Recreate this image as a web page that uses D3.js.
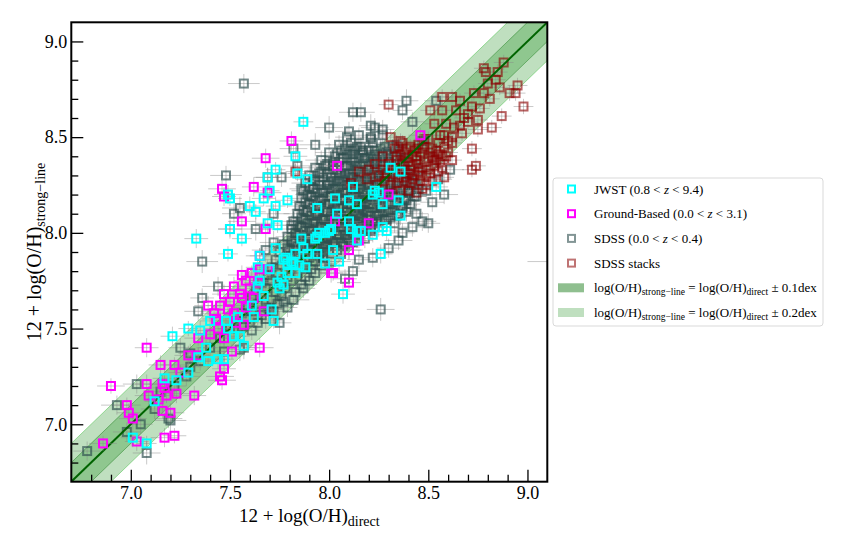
<!DOCTYPE html>
<html>
<head>
<meta charset="utf-8">
<script src="https://cdn.jsdelivr.net/npm/d3@7"></script>
<style>
body { margin: 0; background: #fff; }
text { font-family: "Liberation Serif", "Times New Roman", serif; }
</style>
</head>
<body>
<div id="chart"></div>
<script>
// [x, y, xerr, yerr]
var jwst = [
  [7.87,8.58,.05,.04],[7.83,8.40,.06,.05],[7.73,8.33,.05,.04],[7.69,8.29,.06,.05],[7.84,8.31,.05,.04],[7.89,8.28,.06,.05],
  [7.49,8.20,.07,.05],[7.50,8.18,.06,.04],[7.70,8.22,.05,.05],[7.67,8.18,.06,.04],[7.73,8.14,.05,.05],[7.79,8.17,.06,.04],
  [7.60,8.14,.07,.05],[7.63,8.11,.05,.04],[7.50,8.02,.06,.05],[7.56,7.97,.05,.04],[7.33,7.97,.06,.05],[7.49,7.89,.05,.04],
  [7.69,8.05,.06,.05],[7.74,8.04,.05,.04],[7.73,7.92,.06,.05],[7.65,7.88,.05,.04],[7.64,7.82,.06,.05],[7.65,7.75,.05,.04],
  [7.64,7.72,.06,.05],[8.12,8.24,.05,.04],[8.03,8.18,.06,.05],[8.10,8.17,.05,.04],[8.14,8.15,.06,.05],[7.94,8.13,.05,.04],
  [8.01,8.02,.06,.05],[7.98,8.00,.05,.04],[7.95,8.00,.06,.05],[7.93,7.97,.05,.04],[8.10,8.06,.06,.05],[8.11,8.02,.05,.04],
  [8.14,8.01,.06,.05],[8.14,7.96,.05,.04],[7.86,7.97,.06,.05],[7.87,7.92,.05,.04],[7.83,7.89,.06,.05],[7.89,7.89,.05,.04],
  [7.94,7.89,.06,.05],[8.02,7.91,.05,.04],[8.05,7.85,.06,.05],[7.98,7.84,.05,.04],[7.78,7.87,.06,.05],[7.79,7.84,.05,.04],
  [7.82,7.84,.06,.05],[7.85,7.83,.05,.04],[7.88,7.82,.06,.05],[7.83,7.79,.05,.04],[7.79,7.79,.06,.05],[8.31,8.34,.05,.04],
  [8.36,8.32,.06,.05],[8.23,8.22,.05,.04],[8.22,8.20,.06,.05],[8.25,8.21,.05,.04],[8.27,8.15,.06,.05],[8.35,8.17,.05,.04],
  [8.54,8.24,.06,.05],[8.04,8.10,.05,.04],[8.36,8.09,.06,.05],[8.16,8.01,.05,.04],[8.29,8.01,.06,.05],[8.00,8.01,.05,.04],
  [8.26,7.89,.06,.05],[8.22,7.99,.05,.04],[8.27,8.03,.06,.05],[7.94,7.98,.05,.04],[8.07,7.68,.06,.05],[7.77,7.86,.05,.04],
  [7.81,7.85,.06,.05],[7.70,7.81,.05,.04],[7.76,7.77,.06,.05],[7.67,7.67,.05,.04],[7.74,7.74,.06,.05],[7.75,7.71,.05,.04],
  [7.77,7.73,.06,.05],[7.61,7.62,.05,.04],[7.71,7.60,.06,.05],[7.72,7.54,.05,.04],[7.62,7.56,.06,.05],[7.54,7.56,.05,.04],
  [7.48,7.54,.06,.05],[7.40,7.54,.05,.04],[7.35,7.49,.06,.05],[7.29,7.50,.05,.04],[7.21,7.46,.06,.05],[7.49,7.50,.05,.04],
  [7.52,7.46,.06,.05],[7.55,7.46,.05,.04],[7.57,7.41,.06,.05],[7.38,7.40,.05,.04],[7.34,7.35,.06,.05],[7.39,7.33,.05,.04],
  [7.44,7.34,.06,.05],[7.47,7.34,.05,.04],[7.29,7.27,.06,.05],[7.23,7.23,.05,.04],[7.17,7.24,.06,.05],[7.12,7.12,.05,.04],
  [7.01,6.93,.06,.05],[7.08,6.90,.05,.04]
];

var ground = [
  [7.81,8.48,.06,.05],[7.68,8.39,.07,.05],[8.04,8.35,.06,.04],[7.46,8.23,.07,.05],[7.62,8.24,.06,.05],[7.69,8.21,.07,.04],
  [7.47,8.19,.06,.05],[7.56,8.06,.07,.05],[7.50,8.02,.06,.04],[7.68,8.02,.07,.05],[8.03,8.06,.06,.05],[7.65,7.88,.07,.04],
  [8.10,7.91,.06,.05],[7.56,7.78,.07,.05],[7.61,7.79,.06,.04],[7.65,7.81,.07,.05],[7.69,7.81,.06,.05],[8.02,7.79,.07,.04],
  [8.10,7.74,.06,.05],[7.64,7.74,.07,.05],[8.46,8.51,.06,.04],[8.30,8.20,.07,.05],[8.20,8.05,.06,.05],[8.15,7.96,.07,.04],
  [7.47,7.68,.06,.05],[7.55,7.68,.07,.05],[7.56,7.66,.06,.04],[7.39,7.62,.07,.05],[7.49,7.60,.06,.05],[7.42,7.58,.07,.04],
  [7.52,7.58,.06,.05],[7.58,7.61,.07,.05],[7.67,7.59,.06,.04],[7.44,7.50,.07,.05],[7.47,7.45,.06,.05],[7.34,7.45,.07,.04],
  [7.08,7.40,.06,.05],[7.65,7.40,.07,.05],[7.51,7.38,.06,.04],[7.29,7.36,.07,.05],[7.15,7.31,.06,.05],[7.22,7.31,.07,.04],
  [7.47,7.29,.06,.05],[7.45,7.25,.07,.05],[7.25,7.27,.06,.04],[7.16,7.21,.07,.05],[7.08,7.21,.06,.05],[6.90,7.20,.07,.04],
  [7.17,7.19,.06,.05],[7.23,7.16,.07,.05],[7.18,7.15,.06,.04],[7.09,7.15,.07,.05],[7.32,7.15,.06,.05],[6.98,7.10,.07,.04],
  [6.99,7.06,.06,.05],[7.01,7.03,.07,.05],[7.16,7.07,.06,.04],[7.20,7.06,.07,.05],[7.14,7.13,.06,.05],[6.86,6.90,.07,.04],
  [7.03,6.91,.06,.05],[7.17,6.93,.07,.05],[7.22,6.94,.06,.04],[7.46,7.23,.07,.05],[7.52,7.72,.06,.05],[7.60,7.71,.07,.04],
  [7.58,7.75,.06,.05],[7.50,7.64,.07,.05],[7.62,7.66,.06,.04],[7.45,7.62,.07,.05],[7.53,7.53,.06,.05],[7.43,7.55,.07,.04],
  [7.57,7.52,.06,.05],[7.40,7.47,.07,.05],[7.34,7.36,.06,.04],[8.10,7.91,.07,.05],[8.01,7.79,.06,.05]
];

var sdss = [
  // scattered
  [7.57,8.78,.08,.05],[8.26,7.60,.07,.06],[7.36,7.85,.08,.06],[7.34,7.59,.07,.05],[7.77,7.64,.08,.06],[7.75,7.53,.06,.06],
  [7.57,7.40,.08,.06],[7.03,7.21,.07,.05],[6.93,7.10,.08,.05],[7.19,7.03,.07,.05],[6.78,6.86,.07,.05],[7.20,7.02,.08,.06],
  [7.08,6.85,.07,.06],[7.48,8.30,.08,.05],[7.55,8.13,.09,.06],[7.69,8.29,.07,.05],[7.76,8.29,.07,.05],[7.84,8.35,.08,.06],
  [7.82,8.44,.07,.06],[7.86,8.23,.06,.06],[7.81,8.04,.08,.05],[7.68,7.91,.07,.06],[7.72,7.95,.07,.06],[7.70,7.60,.07,.05],
  [7.55,7.39,.07,.06],[7.52,8.10,.06,.05],[7.63,8.02,.07,.06],[7.72,8.10,.08,.05],[7.36,7.66,.06,.05],[7.44,7.72,.08,.05],
  [7.30,7.30,.06,.05],[7.25,7.40,.06,.05],[8.12,8.63,.07,.05],[8.16,8.63,.07,.05],[8.39,8.69,.06,.06],[8.37,8.64,.05,.05],
  [8.54,8.69,.06,.05],[8.10,8.53,.07,.05],[8.21,8.56,.06,.06],[8.23,8.55,.07,.05],[8.27,8.54,.06,.05],[8.21,8.50,.06,.05],
  [8.13,8.44,.06,.05],[8.42,8.58,.06,.05],[8.00,8.55,.07,.06],[7.93,8.46,.08,.06],[8.47,8.48,.06,.05],[8.45,8.33,.06,.05],
  [8.61,8.33,.07,.05],[8.49,8.22,.06,.05],[8.47,8.06,.07,.05],[8.44,8.10,.06,.05],[8.37,8.00,.06,.05],[8.35,7.96,.07,.05],
  [8.42,8.03,.06,.05],[8.22,7.87,.07,.05],[8.52,8.16,.06,.05],[8.55,8.28,.07,.05],[8.50,8.05,.06,.05],[8.30,7.92,.06,.05],
  [8.12,7.80,.07,.05],[8.15,7.86,.06,.05],[8.08,7.76,.06,.05],[8.58,8.20,.07,.05],[9.20,7.85,.20,.05],
  // main cloud
  [8.09,8.50,.06,.05],[8.15,8.51,.05,.04],[8.21,8.49,.07,.05],[8.27,8.51,.05,.05],
  [8.05,8.46,.07,.05],[8.11,8.47,.06,.04],[8.16,8.45,.05,.05],[8.22,8.47,.08,.05],[8.28,8.45,.06,.04],[8.34,8.46,.05,.05],
  [8.00,8.42,.07,.05],[8.06,8.43,.05,.04],[8.12,8.41,.08,.05],[8.17,8.43,.06,.05],[8.23,8.41,.05,.04],[8.29,8.42,.07,.05],[8.35,8.43,.06,.05],
  [7.96,8.38,.08,.05],[8.02,8.37,.06,.05],[8.07,8.39,.05,.04],[8.13,8.37,.07,.05],[8.18,8.39,.06,.05],[8.24,8.38,.08,.04],[8.30,8.37,.05,.05],[8.37,8.39,.06,.05],
  [7.93,8.34,.07,.05],[7.98,8.35,.06,.05],[8.04,8.33,.08,.04],[8.09,8.35,.05,.05],[8.14,8.33,.06,.05],[8.20,8.35,.07,.04],[8.26,8.33,.05,.05],[8.32,8.35,.06,.05],[8.39,8.33,.07,.05],
  [7.90,8.30,.08,.05],[7.95,8.31,.05,.05],[8.01,8.29,.06,.04],[8.06,8.31,.07,.05],[8.11,8.29,.05,.05],[8.17,8.31,.06,.04],[8.22,8.29,.08,.05],[8.28,8.31,.05,.05],[8.34,8.29,.06,.05],[8.41,8.31,.07,.04],
  [7.88,8.26,.07,.05],[7.93,8.27,.06,.04],[7.99,8.25,.05,.05],[8.04,8.27,.08,.05],[8.09,8.25,.06,.04],[8.14,8.27,.05,.05],[8.20,8.25,.07,.05],[8.25,8.27,.06,.04],[8.31,8.25,.05,.05],[8.37,8.27,.08,.05],[8.44,8.25,.06,.05],
  [7.87,8.22,.06,.05],[7.92,8.23,.07,.05],[7.97,8.21,.05,.04],[8.02,8.23,.06,.05],[8.07,8.21,.08,.05],[8.12,8.23,.05,.04],[8.17,8.21,.06,.05],[8.23,8.23,.07,.05],[8.28,8.21,.05,.04],[8.34,8.23,.06,.05],[8.40,8.21,.07,.05],[8.45,8.23,.05,.05],
  [7.86,8.18,.07,.05],[7.91,8.19,.05,.05],[7.96,8.17,.06,.04],[8.01,8.19,.08,.05],[8.06,8.17,.05,.05],[8.11,8.19,.06,.04],[8.16,8.17,.07,.05],[8.21,8.19,.05,.05],[8.27,8.17,.06,.04],[8.32,8.19,.08,.05],[8.38,8.17,.05,.05],[8.43,8.19,.06,.05],
  [7.85,8.14,.06,.05],[7.90,8.15,.07,.04],[7.95,8.13,.05,.05],[8.00,8.15,.06,.05],[8.05,8.13,.08,.04],[8.10,8.15,.05,.05],[8.15,8.13,.06,.05],[8.20,8.15,.07,.04],[8.26,8.13,.05,.05],[8.31,8.15,.06,.05],[8.36,8.13,.08,.05],[8.41,8.15,.05,.05],
  [7.84,8.10,.07,.05],[7.89,8.11,.05,.05],[7.94,8.09,.06,.04],[7.99,8.11,.08,.05],[8.04,8.09,.05,.05],[8.09,8.11,.06,.04],[8.14,8.09,.07,.05],[8.19,8.11,.05,.05],[8.24,8.09,.06,.04],[8.29,8.11,.08,.05],[8.34,8.09,.05,.05],[8.39,8.11,.06,.05],
  [7.82,8.06,.06,.05],[7.87,8.07,.07,.04],[7.92,8.05,.05,.05],[7.97,8.07,.06,.05],[8.02,8.05,.08,.04],[8.07,8.07,.05,.05],[8.12,8.05,.06,.05],[8.17,8.07,.07,.04],[8.22,8.05,.05,.05],[8.28,8.07,.06,.05],[8.33,8.05,.07,.05],
  [7.81,8.02,.07,.05],[7.86,8.03,.05,.05],[7.91,8.01,.06,.04],[7.96,8.03,.08,.05],[8.01,8.01,.05,.05],[8.06,8.03,.06,.04],[8.11,8.01,.07,.05],[8.16,8.03,.05,.05],[8.21,8.01,.06,.04],[8.25,8.03,.08,.05],
  [7.79,7.98,.06,.05],[7.84,7.99,.07,.04],[7.89,7.97,.05,.05],[7.94,7.99,.06,.05],[7.99,7.97,.08,.04],[8.04,7.99,.05,.05],[8.09,7.97,.06,.05],[8.14,7.99,.07,.04],[8.18,7.97,.05,.05],
  [7.77,7.94,.07,.05],[7.82,7.95,.05,.05],[7.87,7.93,.06,.04],[7.92,7.95,.08,.05],[7.97,7.93,.05,.05],[8.02,7.95,.06,.04],[8.07,7.93,.07,.05],[8.12,7.95,.05,.05],
  [7.75,7.90,.06,.05],[7.80,7.91,.07,.04],[7.85,7.89,.05,.05],[7.90,7.91,.06,.05],[7.95,7.89,.08,.04],[8.00,7.91,.05,.05],[8.06,7.89,.06,.05],
  [7.73,7.86,.07,.05],[7.78,7.87,.05,.05],[7.83,7.85,.06,.04],[7.88,7.87,.08,.05],[7.93,7.85,.05,.05],[7.97,7.87,.06,.04],[8.01,7.85,.07,.05],
  [7.71,7.82,.06,.05],[7.76,7.83,.07,.04],[7.81,7.81,.05,.05],[7.86,7.83,.06,.05],[7.91,7.81,.08,.04],[7.96,7.83,.05,.05],
  [7.69,7.78,.07,.05],[7.74,7.79,.05,.05],[7.79,7.77,.06,.04],[7.84,7.79,.08,.05],[7.88,7.77,.05,.05],[7.93,7.79,.06,.05],
  [7.66,7.74,.06,.05],[7.71,7.75,.07,.04],[7.76,7.73,.05,.05],[7.81,7.75,.06,.05],[7.86,7.73,.08,.04],[7.90,7.75,.05,.05],
  [7.63,7.70,.07,.05],[7.68,7.71,.05,.05],[7.73,7.69,.06,.04],[7.78,7.71,.08,.05],[7.83,7.69,.05,.05],[7.87,7.71,.06,.05],
  [7.61,7.66,.06,.05],[7.66,7.67,.07,.04],[7.71,7.65,.05,.05],[7.76,7.67,.06,.05],[7.82,7.65,.08,.04],
  [7.59,7.62,.07,.05],[7.64,7.63,.05,.05],[7.69,7.61,.06,.04],[7.74,7.63,.08,.05],[7.79,7.61,.05,.05],
  [7.56,7.58,.06,.05],[7.61,7.59,.07,.04],[7.66,7.57,.05,.05],[7.72,7.59,.06,.05],
  [7.53,7.54,.07,.05],[7.58,7.55,.05,.05],[7.64,7.53,.06,.04],[7.68,7.55,.08,.05],
  [7.50,7.50,.06,.05],[7.56,7.51,.07,.04],[7.61,7.49,.05,.05],
  [7.45,7.45,.07,.05],[7.40,7.40,.06,.05],[7.47,7.38,.08,.05],[7.35,7.33,.07,.05],[7.30,7.37,.06,.05],[7.28,7.25,.07,.05],
  [7.22,7.20,.06,.05],[7.15,7.17,.08,.05],[7.12,7.08,.07,.05],[7.05,7.00,.06,.05],[6.98,6.96,.07,.05],
  // dense core
  [8.08,8.44,.06,.05],[8.14,8.45,.05,.04],[8.20,8.43,.07,.05],[8.26,8.44,.06,.05],[8.32,8.45,.05,.04],
  [8.03,8.40,.07,.05],[8.09,8.41,.05,.05],[8.15,8.39,.06,.04],[8.21,8.40,.08,.05],[8.27,8.41,.05,.05],[8.33,8.40,.06,.04],
  [7.99,8.36,.06,.05],[8.05,8.37,.07,.04],[8.11,8.35,.05,.05],[8.17,8.36,.06,.05],[8.22,8.37,.08,.04],[8.28,8.35,.05,.05],[8.35,8.36,.06,.05],
  [7.96,8.32,.07,.05],[8.02,8.33,.05,.05],[8.08,8.31,.06,.04],[8.13,8.32,.08,.05],[8.19,8.33,.05,.05],[8.25,8.31,.06,.04],[8.31,8.32,.07,.05],[8.37,8.33,.05,.05],
  [7.92,8.28,.06,.05],[7.97,8.29,.07,.04],[8.02,8.27,.05,.05],[8.07,8.28,.06,.05],[8.12,8.29,.08,.04],[8.17,8.27,.05,.05],[8.23,8.28,.06,.05],[8.28,8.29,.07,.04],[8.34,8.27,.05,.05],[8.40,8.28,.06,.05],
  [7.90,8.24,.07,.05],[7.95,8.25,.05,.05],[8.00,8.23,.06,.04],[8.05,8.24,.08,.05],[8.10,8.25,.05,.05],[8.15,8.23,.06,.04],[8.20,8.24,.07,.05],[8.26,8.25,.05,.05],[8.31,8.23,.06,.04],[8.37,8.24,.08,.05],[8.42,8.25,.05,.05],
  [7.89,8.20,.06,.05],[7.94,8.21,.07,.04],[7.99,8.19,.05,.05],[8.04,8.20,.06,.05],[8.09,8.21,.08,.04],[8.14,8.19,.05,.05],[8.19,8.20,.06,.05],[8.24,8.21,.07,.04],[8.30,8.19,.05,.05],[8.35,8.20,.06,.05],[8.41,8.21,.07,.05],
  [7.88,8.16,.07,.05],[7.93,8.17,.05,.05],[7.98,8.15,.06,.04],[8.03,8.16,.08,.05],[8.08,8.17,.05,.05],[8.13,8.15,.06,.04],[8.18,8.16,.07,.05],[8.23,8.17,.05,.05],[8.29,8.15,.06,.04],[8.34,8.16,.08,.05],[8.39,8.17,.05,.05],
  [7.87,8.12,.06,.05],[7.92,8.13,.07,.04],[7.97,8.11,.05,.05],[8.02,8.12,.06,.05],[8.07,8.13,.08,.04],[8.12,8.11,.05,.05],[8.17,8.12,.06,.05],[8.22,8.13,.07,.04],[8.27,8.11,.05,.05],[8.32,8.12,.06,.05],[8.37,8.13,.07,.05],
  [7.86,8.08,.07,.05],[7.91,8.09,.05,.05],[7.96,8.07,.06,.04],[8.01,8.08,.08,.05],[8.06,8.09,.05,.05],[8.11,8.07,.06,.04],[8.16,8.08,.07,.05],[8.21,8.09,.05,.05],[8.26,8.07,.06,.04],[8.31,8.08,.08,.05],
  [7.84,8.04,.06,.05],[7.89,8.05,.07,.04],[7.94,8.03,.05,.05],[7.99,8.04,.06,.05],[8.04,8.05,.08,.04],[8.09,8.03,.05,.05],[8.14,8.04,.06,.05],[8.19,8.05,.07,.04],[8.23,8.03,.05,.05],
  [7.83,8.00,.07,.05],[7.88,8.01,.05,.05],[7.93,7.99,.06,.04],[7.98,8.00,.08,.05],[8.03,8.01,.05,.05],[8.08,7.99,.06,.04],[8.13,8.00,.07,.05],[8.18,8.01,.05,.05],
  [7.81,7.96,.06,.05],[7.86,7.97,.07,.04],[7.91,7.95,.05,.05],[7.96,7.96,.06,.05],[8.01,7.97,.08,.04],[8.06,7.95,.05,.05],[8.11,7.96,.06,.05],
  [7.79,7.92,.07,.05],[7.84,7.93,.05,.05],[7.89,7.91,.06,.04],[7.94,7.92,.08,.05],[7.99,7.93,.05,.05],[8.04,7.91,.06,.04],
  [7.80,7.88,.06,.05],[7.85,7.89,.07,.04],[7.90,7.87,.05,.05],[7.95,7.88,.06,.05],
  // densest part
  [8.11,8.43,.06,.04],[8.17,8.42,.05,.05],[8.23,8.43,.07,.04],[8.29,8.42,.06,.05],
  [8.06,8.39,.05,.04],[8.12,8.38,.07,.05],[8.18,8.39,.06,.04],[8.24,8.38,.05,.05],[8.30,8.39,.07,.04],[8.36,8.38,.06,.05],
  [8.02,8.35,.06,.04],[8.08,8.34,.05,.05],[8.14,8.35,.07,.04],[8.20,8.34,.06,.05],[8.25,8.35,.05,.04],[8.31,8.34,.07,.05],[8.38,8.35,.06,.04],
  [7.99,8.31,.05,.05],[8.05,8.30,.07,.04],[8.10,8.31,.06,.05],[8.16,8.30,.05,.04],[8.22,8.31,.07,.05],[8.28,8.30,.06,.04],[8.34,8.31,.05,.05],[8.40,8.30,.07,.04],
  [7.95,8.27,.06,.05],[8.00,8.26,.05,.04],[8.05,8.27,.07,.05],[8.10,8.26,.06,.04],[8.15,8.27,.05,.05],[8.20,8.26,.07,.04],[8.26,8.27,.06,.05],[8.31,8.26,.05,.04],[8.37,8.27,.07,.05],[8.43,8.26,.06,.04],
  [7.92,8.23,.05,.05],[7.97,8.22,.07,.04],[8.03,8.23,.06,.05],[8.08,8.22,.05,.04],[8.13,8.23,.07,.05],[8.18,8.22,.06,.04],[8.23,8.23,.05,.05],[8.29,8.22,.07,.04],[8.34,8.23,.06,.05],[8.40,8.22,.05,.04],
  [7.91,8.19,.06,.05],[7.96,8.18,.05,.04],[8.01,8.19,.07,.05],[8.07,8.18,.06,.04],[8.12,8.19,.05,.05],[8.17,8.18,.07,.04],[8.22,8.19,.06,.05],[8.27,8.18,.05,.04],[8.33,8.19,.07,.05],[8.38,8.18,.06,.04],[8.44,8.19,.05,.05],
  [7.90,8.15,.07,.04],[7.95,8.14,.06,.05],[8.00,8.15,.05,.04],[8.05,8.14,.07,.05],[8.11,8.15,.06,.04],[8.16,8.14,.05,.05],[8.21,8.15,.07,.04],[8.26,8.14,.06,.05],[8.31,8.15,.05,.04],[8.37,8.14,.07,.05],
  [7.89,8.11,.06,.05],[7.94,8.10,.05,.04],[7.99,8.11,.07,.05],[8.04,8.10,.06,.04],[8.09,8.11,.05,.05],[8.15,8.10,.07,.04],[8.20,8.11,.06,.05],[8.25,8.10,.05,.04],[8.30,8.11,.07,.05],[8.35,8.10,.06,.04],
  [7.88,8.07,.05,.05],[7.93,8.06,.07,.04],[7.98,8.07,.06,.05],[8.03,8.06,.05,.04],[8.08,8.07,.07,.05],[8.13,8.06,.06,.04],[8.19,8.07,.05,.05],[8.24,8.06,.07,.04],[8.29,8.07,.06,.05],
  [7.86,8.03,.06,.04],[7.91,8.02,.05,.05],[7.96,8.03,.07,.04],[8.01,8.02,.06,.05],[8.06,8.03,.05,.04],[8.11,8.02,.07,.05],[8.16,8.03,.06,.04],[8.21,8.02,.05,.05],
  [7.85,7.99,.07,.05],[7.90,7.98,.06,.04],[7.95,7.99,.05,.05],[8.00,7.98,.07,.04],[8.05,7.99,.06,.05],[8.10,7.98,.05,.04],[8.15,7.99,.07,.05],
  [7.83,7.95,.06,.04],[7.88,7.94,.05,.05],[7.93,7.95,.07,.04],[7.98,7.94,.06,.05],[8.03,7.95,.05,.04],[8.08,7.94,.07,.05],
  [7.82,7.91,.05,.05],[7.87,7.90,.07,.04],[7.92,7.91,.06,.05],[7.97,7.90,.05,.04],[8.02,7.91,.07,.05]
];

var stacks = [
  [8.30,8.67,.05,.04],[8.79,8.84,.05,.04],[8.84,8.80,.05,.04],[8.95,8.77,.05,.04],[8.78,8.73,.05,.04],[8.73,8.73,.05,.04],
  [8.66,8.69,.05,.04],[8.62,8.71,.05,.04],[8.57,8.71,.05,.04],[8.91,8.73,.05,.04],[8.94,8.73,.05,.04],[8.98,8.66,.05,.04],
  [8.76,8.65,.05,.04],[8.57,8.64,.05,.04],[8.51,8.64,.05,.04],[8.64,8.64,.05,.04],[8.68,8.60,.05,.04],[8.75,8.59,.05,.04],
  [8.87,8.61,.05,.04],[8.53,8.57,.05,.04],[8.59,8.57,.05,.04],[8.63,8.55,.05,.04],[8.82,8.55,.05,.04],[8.75,8.54,.05,.04],
  [8.58,8.51,.05,.04],[8.48,8.49,.05,.04],[8.62,8.50,.05,.04],[8.31,8.50,.05,.04],[8.72,8.44,.05,.04],[8.44,8.44,.05,.04],
  [8.48,8.45,.05,.04],[8.54,8.43,.05,.04],[8.57,8.40,.05,.04],[8.52,8.40,.05,.04],[8.36,8.41,.05,.04],[8.42,8.40,.05,.04],
  [8.27,8.40,.05,.04],[8.27,8.33,.05,.04],[8.34,8.38,.05,.04],[8.42,8.35,.05,.04],[8.54,8.38,.05,.04],[8.74,8.35,.05,.04],
  [8.72,8.33,.05,.04],[8.58,8.29,.05,.04],[8.25,8.30,.05,.04],[8.44,8.21,.05,.04],[8.49,8.25,.05,.04],[8.36,8.22,.05,.04],
  [7.83,8.32,.05,.04],[8.88,8.89,.05,.04],[8.78,8.86,.05,.04],[8.46,8.30,.05,.04],[8.39,8.27,.05,.04],[8.50,8.33,.05,.04],
  [8.45,8.36,.05,.04],[8.40,8.31,.05,.04],[8.31,8.25,.05,.04],[8.62,8.47,.05,.04],[8.67,8.52,.05,.04],[8.70,8.62,.05,.04],
  [8.81,8.70,.05,.04],[8.86,8.76,.05,.04],[8.23,8.36,.05,.04],[8.11,8.26,.05,.04],[8.19,8.28,.05,.04],[8.15,8.32,.05,.04],
  [8.33,8.44,.05,.04],[8.38,8.42,.05,.04],[8.40,8.37,.05,.04],[8.44,8.40,.05,.04],[8.46,8.42,.05,.04],[8.50,8.39,.05,.04],
  [8.52,8.44,.05,.04],[8.47,8.34,.05,.04],[8.43,8.30,.05,.04],[8.49,8.30,.05,.04],[8.53,8.35,.05,.04],[8.56,8.37,.05,.04],
  [8.38,8.33,.05,.04],[8.35,8.29,.05,.04],[8.30,8.36,.05,.04],[8.32,8.31,.05,.04],[8.41,8.26,.05,.04],[8.46,8.27,.05,.04],
  [8.55,8.47,.05,.04],[8.50,8.49,.05,.04],[8.45,8.46,.05,.04],[8.41,8.45,.05,.04],[8.37,8.47,.05,.04],[8.58,8.45,.05,.04],
  [8.60,8.42,.05,.04],[8.62,8.38,.05,.04],[8.28,8.27,.05,.04],[8.24,8.25,.05,.04],[8.20,8.33,.05,.04],
  [8.35,8.45,.05,.04],[8.39,8.44,.05,.04],[8.43,8.43,.05,.04],[8.47,8.44,.05,.04],[8.51,8.42,.05,.04],[8.55,8.41,.05,.04],
  [8.34,8.40,.05,.04],[8.39,8.39,.05,.04],[8.44,8.38,.05,.04],[8.48,8.37,.05,.04],[8.53,8.38,.05,.04],[8.57,8.34,.05,.04],
  [8.33,8.34,.05,.04],[8.37,8.36,.05,.04],[8.41,8.33,.05,.04],[8.45,8.32,.05,.04],[8.51,8.31,.05,.04],[8.55,8.32,.05,.04],
  [8.34,8.26,.05,.04],[8.38,8.29,.05,.04],[8.42,8.28,.05,.04],[8.47,8.23,.05,.04],[8.52,8.27,.05,.04],[8.29,8.31,.05,.04],
  [8.40,8.22,.05,.04],[8.59,8.40,.05,.04],[8.36,8.48,.05,.04],[8.56,8.51,.05,.04],[8.60,8.48,.05,.04],[8.66,8.56,.05,.04],
  [8.70,8.58,.05,.04],[8.72,8.66,.05,.04],[8.80,8.78,.05,.04],[8.85,8.84,.05,.04]
];

var xTicks = [7.0, 7.5, 8.0, 8.5, 9.0];
var yTicks = [7.0, 7.5, 8.0, 8.5, 9.0];
var minorTicks = [6.8, 6.9, 7.1, 7.2, 7.3, 7.4, 7.6, 7.7, 7.8, 7.9, 8.1, 8.2, 8.3, 8.4, 8.6, 8.7, 8.8, 8.9];
var bandWidths = [0.2, 0.1];

var legendItems = [
  { kind: "marker", color: "#00ffff", op: 1, parts: [["JWST (0.8 < "], ["z", "i"], [" < 9.4)"]] },
  { kind: "marker", color: "#ff00ff", op: 1, parts: [["Ground-Based (0.0 < "], ["z", "i"], [" < 3.1)"]] },
  { kind: "marker", color: "#2f4f4f", op: 0.6, parts: [["SDSS (0.0 < "], ["z", "i"], [" < 0.4)"]] },
  { kind: "marker", color: "#8b0000", op: 0.55, parts: [["SDSS stacks"]] },
  { kind: "patch", color: "#8fbf8f", parts: [["log(O/H)"], ["strong\u2212line", "s"], [" = log(O/H)"], ["direct", "s"], [" \u00b1 0.1dex"]] },
  { kind: "patch", color: "#bfdfbf", parts: [["log(O/H)"], ["strong\u2212line", "s"], [" = log(O/H)"], ["direct", "s"], [" \u00b1 0.2dex"]] }
];

var width = 845, height = 545;
var x0 = 71.3, x1 = 547.3, y0 = 22.3, y1 = 481.7;

var x = d3.scaleLinear().domain([6.7, 9.1]).range([x0, x1]);
var y = d3.scaleLinear().domain([6.7, 9.1]).range([y1, y0]);

var svg = d3.select("#chart").append("svg")
    .attr("width", width)
    .attr("height", height);

svg.append("clipPath").attr("id", "clip")
  .append("rect")
    .attr("x", x0).attr("y", y0)
    .attr("width", x1 - x0).attr("height", y1 - y0);

var plot = svg.append("g").attr("clip-path", "url(#clip)");

// bands
var ends = x.domain();
bandWidths.forEach(function(w, i) {
    var area = d3.area()
        .x(function(d) { return x(d); })
        .y0(function(d) { return y(d - w); })
        .y1(function(d) { return y(d + w); });
    plot.append("path")
        .datum(ends)
        .attr("d", area)
        .attr("fill", "green")
        .attr("fill-opacity", 0.25);
    [w, -w].forEach(function(s) {
        plot.append("line")
            .attr("x1", x(ends[0])).attr("y1", y(ends[0] + s))
            .attr("x2", x(ends[1])).attr("y2", y(ends[1] + s))
            .attr("stroke", i == 0 ? "#4fc44f" : "#2e8b2e")
            .attr("stroke-opacity", 0.7)
            .attr("stroke-width", 0.8);
    });
});

function drawSeries(data, color, opacity, size, strokeW) {
    var g = plot.append("g");
    var eb = g.append("g")
        .attr("stroke", "#888")
        .attr("stroke-opacity", 0.45)
        .attr("stroke-width", 1);
    eb.selectAll(".ex").data(data).enter().append("line")
        .attr("x1", function(d) { return x(d[0] - d[2]); })
        .attr("x2", function(d) { return x(d[0] + d[2]); })
        .attr("y1", function(d) { return y(d[1]); })
        .attr("y2", function(d) { return y(d[1]); });
    eb.selectAll(".ey").data(data).enter().append("line")
        .attr("x1", function(d) { return x(d[0]); })
        .attr("x2", function(d) { return x(d[0]); })
        .attr("y1", function(d) { return y(d[1] - d[3]); })
        .attr("y2", function(d) { return y(d[1] + d[3]); });
    g.selectAll("rect").data(data).enter().append("rect")
        .attr("x", function(d) { return x(d[0]) - size / 2; })
        .attr("y", function(d) { return y(d[1]) - size / 2; })
        .attr("width", size)
        .attr("height", size)
        .attr("fill", "none")
        .attr("stroke", color)
        .attr("stroke-opacity", opacity)
        .attr("stroke-width", strokeW);
}

drawSeries(sdss, "#2f4f4f", 0.68, 8, 2);
drawSeries(stacks, "#8b0000", 0.62, 8, 2);

plot.append("line")
    .attr("x1", x(ends[0])).attr("y1", y(ends[0]))
    .attr("x2", x(ends[1])).attr("y2", y(ends[1]))
    .attr("stroke", "darkgreen")
    .attr("stroke-width", 2);

drawSeries(ground, "#ff00ff", 1, 8, 2);
drawSeries(jwst, "#00ffff", 1, 8, 2);

// axes
var fmt = d3.format(".1f");
var xAxis = svg.append("g")
    .attr("transform", "translate(0," + y1 + ")")
    .call(d3.axisBottom(x).tickValues(xTicks).tickSize(-12).tickPadding(5).tickFormat(fmt));
var xMinor = svg.append("g")
    .attr("transform", "translate(0," + y1 + ")")
    .call(d3.axisBottom(x).tickValues(minorTicks).tickSize(-7).tickFormat(""));
var yAxis = svg.append("g")
    .attr("transform", "translate(" + x0 + ",0)")
    .call(d3.axisLeft(y).tickValues(yTicks).tickSize(-12).tickPadding(4).tickFormat(fmt));
var yMinor = svg.append("g")
    .attr("transform", "translate(" + x0 + ",0)")
    .call(d3.axisLeft(y).tickValues(minorTicks).tickSize(-7).tickFormat(""));

[xAxis, xMinor, yAxis, yMinor].forEach(function(a) {
    a.select(".domain").remove();
    a.selectAll(".tick line").attr("stroke", "#000").attr("stroke-width", 1.3);
    a.selectAll(".tick text")
        .attr("fill", "#000")
        .style("font-family", "'Liberation Serif', serif")
        .style("font-size", "18px");
});

svg.append("rect")
    .attr("x", x0).attr("y", y0)
    .attr("width", x1 - x0).attr("height", y1 - y0)
    .attr("fill", "none")
    .attr("stroke", "#000")
    .attr("stroke-width", 2);

// axis labels
var xl = svg.append("text")
    .attr("x", (x0 + x1) / 2)
    .attr("y", 522)
    .attr("text-anchor", "middle")
    .style("font-size", "19px");
xl.append("tspan").text("12 + log(O/H)");
xl.append("tspan").attr("dy", 4).style("font-size", "14px").text("direct");

var yl = svg.append("text")
    .attr("transform", "translate(41," + (y0 + y1) / 2 + ") rotate(-90)")
    .attr("text-anchor", "middle")
    .style("font-size", "20px");
yl.append("tspan").text("12 + log(O/H)");
yl.append("tspan").attr("dy", 4).style("font-size", "14px").text("strong\u2212line");

// legend
var leg = svg.append("g");
leg.append("rect")
    .attr("x", 553).attr("y", 178)
    .attr("width", 270).attr("height", 148)
    .attr("rx", 3)
    .attr("fill", "#fff")
    .attr("stroke", "#d9d9d9")
    .attr("stroke-width", 1);

var rows = leg.selectAll(".row").data(legendItems).enter().append("g")
    .attr("class", "row")
    .attr("transform", function(d, i) { return "translate(0," + (189 + i * 24.7) + ")"; });

rows.filter(function(d) { return d.kind == "marker"; }).append("rect")
    .attr("x", 568).attr("y", -3.5)
    .attr("width", 7).attr("height", 7)
    .attr("fill", "none")
    .attr("stroke", function(d) { return d.color; })
    .attr("stroke-opacity", function(d) { return d.op; })
    .attr("stroke-width", 2);

rows.filter(function(d) { return d.kind == "patch"; }).append("rect")
    .attr("x", 558).attr("y", -4.5)
    .attr("width", 26).attr("height", 9)
    .attr("fill", function(d) { return d.color; });

rows.append("text")
    .attr("x", 594)
    .attr("y", 4.5)
    .style("font-size", "13px")
    .each(function(d) {
        var t = d3.select(this);
        var shifted = false;
        d.parts.forEach(function(p) {
            var sp = t.append("tspan").text(p[0]);
            if (p[1] == "i") sp.style("font-style", "italic");
            if (p[1] == "s") {
                sp.attr("dy", 3).style("font-size", "9.5px");
                shifted = true;
            } else if (shifted) {
                sp.attr("dy", -3);
                shifted = false;
            }
        });
    });
</script>
</body>
</html>
